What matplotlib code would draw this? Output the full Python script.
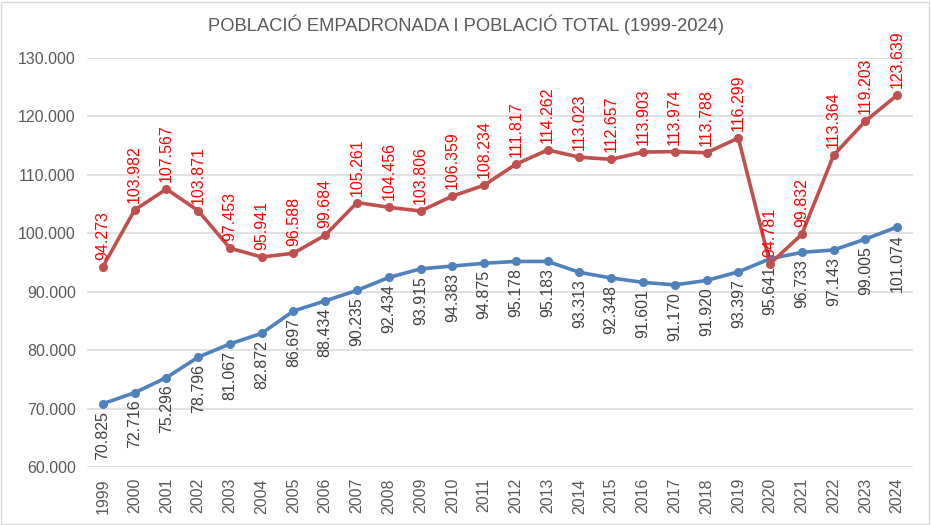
import matplotlib.pyplot as plt
from matplotlib.patches import Rectangle

years = [str(y) for y in range(1999, 2025)]
empadronada = [70825, 72716, 75296, 78796, 81067, 82872, 86697, 88434, 90235, 92434,
               93915, 94383, 94875, 95178, 95183, 93313, 92348, 91601, 91170, 91920,
               93397, 95641, 96733, 97143, 99005, 101074]
total = [94273, 103982, 107567, 103871, 97453, 95941, 96588, 99684, 105261, 104456,
         103806, 106359, 108234, 111817, 114262, 113023, 112657, 113903, 113974, 113788,
         116299, 94781, 99832, 113364, 119203, 123639]
y_ticks = [60000, 70000, 80000, 90000, 100000, 110000, 120000, 130000]

plt.rcParams['font.family'] = ['Liberation Sans', 'DejaVu Sans']


def fmt(v):
    return f"{v:,}".replace(',', '.')


fig = plt.figure(figsize=(9.31, 5.25), dpi=100)
ax = fig.add_axes([0.0934, 0.1105, 0.8873, 0.779])
x = list(range(len(years)))

ax.plot(x, empadronada, color='#4F81BD', linewidth=2.6, marker='o', markersize=5.5,
        zorder=3, solid_capstyle='round')
ax.plot(x, total, color='#C0504D', linewidth=2.6, marker='o', markersize=5.5,
        zorder=4, solid_capstyle='round')

for i, v in enumerate(total):
    ax.annotate(fmt(v), (i, v), xytext=(0, 5), textcoords='offset points',
                rotation=90, ha='center', va='bottom', color='#FF0000', fontsize=11.5,
                zorder=5)
for i, v in enumerate(empadronada):
    ax.annotate(fmt(v), (i, v), xytext=(0, -5), textcoords='offset points',
                rotation=90, ha='center', va='top', color='#404040', fontsize=11.5,
                zorder=5)

ax.set_xlim(-0.5, len(years) - 0.5)
ax.set_ylim(60000, 130000)
ax.set_xticks(x)
ax.set_xticklabels(years, rotation=90, fontsize=11.5, color='#595959')
ax.set_yticks(y_ticks)
ax.set_yticklabels([fmt(v) for v in y_ticks], fontsize=11.5, color='#595959')
ax.tick_params(length=0, pad=8)
ax.yaxis.grid(True, color='#D9D9D9', linewidth=1.1)
ax.set_axisbelow(True)
for s in ax.spines.values():
    s.set_visible(False)

fig.text(0.5, 0.952, 'POBLACIÓ EMPADRONADA I POBLACIÓ TOTAL (1999-2024)',
         ha='center', va='center', fontsize=13.2, color='#595959')

fig.patches.append(Rectangle((0.001, 0.002), 0.997, 0.995, transform=fig.transFigure,
                             fill=False, edgecolor='#D9D9D9', linewidth=1))

fig.savefig('out.png', dpi=100)
